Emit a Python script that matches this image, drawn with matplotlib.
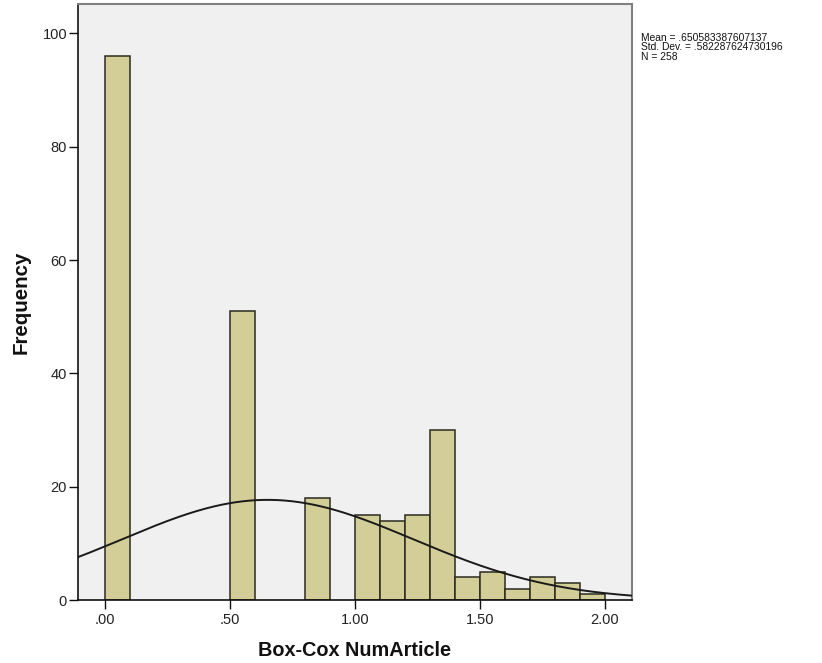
import numpy as np
import matplotlib
matplotlib.use("Agg")
import matplotlib.pyplot as plt

plt.rcParams['font.family'] = ['Liberation Sans', 'DejaVu Sans']

# Histogram data (bin left edges, bin width, frequencies)
bin_lefts = [0.0, 0.5, 0.8, 1.0, 1.1, 1.2, 1.3, 1.4, 1.5, 1.6, 1.7, 1.8, 1.9]
counts = [96, 51, 18, 15, 14, 15, 30, 4, 5, 2, 4, 3, 1]
bin_width = 0.1
mean = 0.650583387607137
std = 0.582287624730196
n = 258
xticks = [0.0, 0.5, 1.0, 1.5, 2.0]
xtick_labels = ['.00', '.50', '1.00', '1.50', '2.00']
yticks = [0, 20, 40, 60, 80, 100]

fig = plt.figure(figsize=(8.22, 6.63), dpi=100)
W, H = 822, 663
left, right, top, bottom = 77.5, 632, 4, 600
ax = fig.add_axes([left / W, (H - bottom) / H, (right - left) / W, (bottom - top) / H])
ax.set_facecolor('#F0F0F0')

ax.bar(bin_lefts, counts, width=bin_width, align='edge', color='#D3CE98',
       edgecolor='#2A2A1E', linewidth=1.1, zorder=2)

xmin, xmax = -0.11, 2.108
xs = np.linspace(xmin, xmax, 400)
ys = n * bin_width / (std * np.sqrt(2 * np.pi)) * np.exp(-0.5 * ((xs - mean) / std) ** 2)
ax.plot(xs, ys, color='#1A1A1A', linewidth=1.4, zorder=3)

ax.set_xlim(xmin, xmax)
ax.set_ylim(0, 105.2)
ax.set_xticks(xticks)
ax.set_xticklabels(xtick_labels)
ax.set_yticks(yticks)
ax.tick_params(axis='both', direction='out', length=6.5, width=1, color='#111111',
               labelsize=10.5, labelcolor='#222222')
ax.tick_params(axis='x', pad=3)
ax.tick_params(axis='y', pad=1)

for s in ['left', 'bottom']:
    ax.spines[s].set_color('#111111')
    ax.spines[s].set_linewidth(1.2)
for s in ['top', 'right']:
    ax.spines[s].set_color('#808080')
    ax.spines[s].set_linewidth(1.5)

ax.set_xlabel('Box-Cox NumArticle', fontsize=14.3, fontweight='bold', color='#111111')
ax.set_ylabel('Frequency', fontsize=14.8, fontweight='bold', color='#111111')
ax.xaxis.label.set_va('center')
ax.yaxis.label.set_va('center')
ax.yaxis.label.set_ha('center')
ax.xaxis.set_label_coords(0.5, (bottom - 651) / (bottom - top))
ax.yaxis.set_label_coords((21 - left) / (right - left), 0.5)

fig.text(641 / W, 1 - 33 / H,
         'Mean = .650583387607137\nStd. Dev. = .582287624730196\nN = 258',
         fontsize=7.4, va='top', ha='left', linespacing=0.93, color='#111111')

fig.savefig('out.png', dpi=100, facecolor='white')
